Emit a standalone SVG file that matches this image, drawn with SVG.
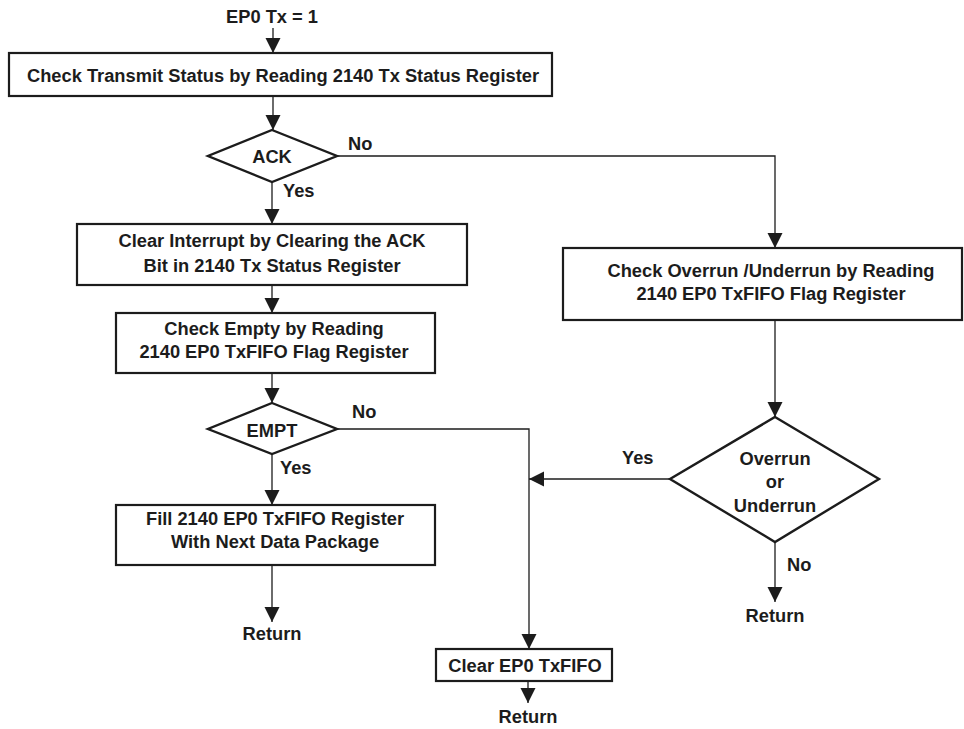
<svg xmlns="http://www.w3.org/2000/svg" width="964" height="729" viewBox="0 0 964 729">
<style>
text{font-family:"Liberation Sans",Arial,sans-serif;font-weight:bold;font-size:18.3px;fill:#1c1c1c}
.c{text-anchor:middle}
.box{fill:#fff;stroke:#1c1c1c;stroke-width:2.2}
.dia{fill:#fff;stroke:#1c1c1c;stroke-width:2.4}
.ln{fill:none;stroke:#1c1c1c;stroke-width:1.3}
.ar{marker-end:url(#ah)}
</style>
<defs>
<marker id="ah" markerUnits="userSpaceOnUse" markerWidth="16" markerHeight="16" refX="15" refY="7.5" orient="auto" viewBox="0 0 16 16">
<path d="M0,0 L15,7.5 L0,15 z" fill="#1c1c1c"/>
</marker>
</defs>
<rect width="964" height="729" fill="#fff"/>
<g id="connectors">
<line class="ln ar" x1="273" y1="28" x2="273" y2="53"/>
<line class="ln ar" x1="273" y1="96" x2="273" y2="130"/>
<line class="ln ar" x1="272" y1="182" x2="272" y2="224"/>
<line class="ln ar" x1="272" y1="285" x2="272" y2="313"/>
<line class="ln ar" x1="272" y1="373" x2="272" y2="403"/>
<line class="ln ar" x1="272" y1="454" x2="272" y2="505"/>
<line class="ln ar" x1="272" y1="565" x2="272" y2="622"/>
<polyline class="ln ar" points="337,156 775,156 775,248"/>
<line class="ln ar" x1="775" y1="320" x2="775" y2="417"/>
<line class="ln ar" x1="775" y1="542" x2="775" y2="602"/>
<line class="ln ar" x1="670" y1="479" x2="529" y2="479"/>
<polyline class="ln ar" points="337,429 529,429 529,649"/>
<line class="ln ar" x1="528" y1="681" x2="528" y2="703"/>
<text x="348" y="150">No</text>
<text x="283" y="197">Yes</text>
<text x="352" y="418">No</text>
<text x="280" y="474">Yes</text>
<text x="622" y="464">Yes</text>
<text x="787" y="571">No</text>
</g>
<g id="start"><text class="c" x="272" y="23">EP0 Tx = 1</text></g>
<g id="checkTransmit">
<rect class="box" x="9" y="53" width="543" height="43"/>
<text class="c" x="283" y="82">Check Transmit Status by Reading 2140 Tx Status Register</text>
</g>
<g id="ack">
<polygon class="dia" points="272,130 337,156 272,182 208,156"/>
<text class="c" x="272" y="163">ACK</text>
</g>
<g id="clearInterrupt">
<rect class="box" x="77" y="224" width="390" height="61"/>
<text class="c" x="272" y="247">Clear Interrupt by Clearing the ACK</text>
<text class="c" x="272" y="272">Bit in 2140 Tx Status Register</text>
</g>
<g id="checkEmpty">
<rect class="box" x="116" y="313" width="319" height="60"/>
<text class="c" x="274" y="335">Check Empty by Reading</text>
<text class="c" x="274" y="358">2140 EP0 TxFIFO Flag Register</text>
</g>
<g id="empt">
<polygon class="dia" points="272,403 337,429 272,454 208,429"/>
<text class="c" x="272" y="437">EMPT</text>
</g>
<g id="fill">
<rect class="box" x="116" y="505" width="319" height="60"/>
<text class="c" x="275" y="525">Fill 2140 EP0 TxFIFO Register</text>
<text class="c" x="275" y="548">With Next Data Package</text>
</g>
<g id="return1"><text class="c" x="272" y="640">Return</text></g>
<g id="checkOverrun">
<rect class="box" x="563" y="248" width="399" height="72"/>
<text class="c" x="771" y="277">Check Overrun /Underrun by Reading</text>
<text class="c" x="771" y="300">2140 EP0 TxFIFO Flag Register</text>
</g>
<g id="overrun">
<polygon class="dia" points="775,417 879,479 775,542 670,479"/>
<text class="c" x="775" y="465">Overrun</text>
<text class="c" x="775" y="488">or</text>
<text class="c" x="775" y="512">Underrun</text>
</g>
<g id="return2"><text class="c" x="775" y="622">Return</text></g>
<g id="clearFifo">
<rect class="box" x="436" y="649" width="176" height="32"/>
<text class="c" x="525" y="672">Clear EP0 TxFIFO</text>
</g>
<g id="return3"><text class="c" x="528" y="723">Return</text></g>
</svg>
